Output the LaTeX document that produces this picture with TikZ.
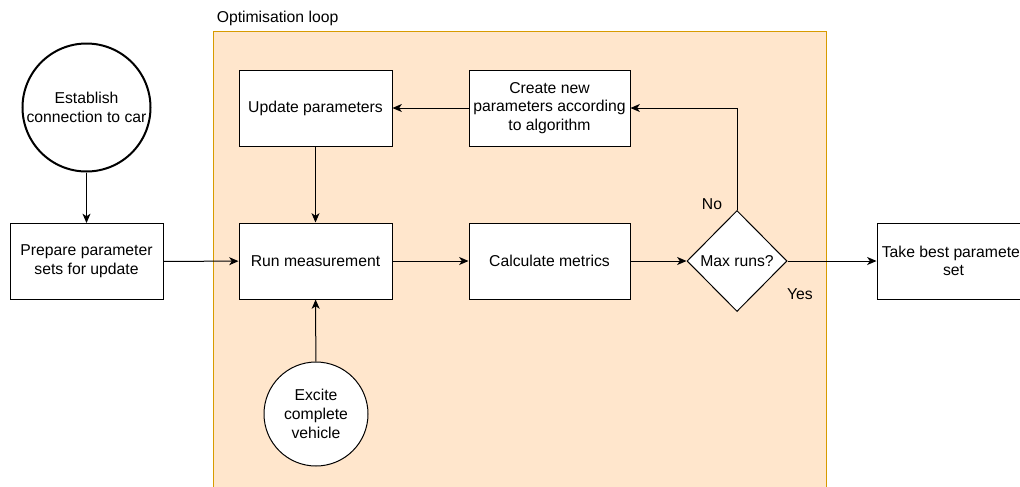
\documentclass[tikz,border=0pt]{standalone}
\usepackage{fontspec}
\setmainfont{Liberation Sans}
\usetikzlibrary{shapes.geometric,arrows.meta,positioning}

\definecolor{loopfill}{HTML}{FFE6CC}
\definecolor{loopdraw}{HTML}{D79B00}
\newcommand{\flowfont}{\fontsize{11.8pt}{14pt}\selectfont}

\begin{document}
\begin{tikzpicture}[x=0.75pt,y=-0.75pt,
	every node/.style={font=\flowfont},
	box/.style={draw=black, fill=white, line width=0.75pt, minimum width=114.75pt, minimum height=57pt, align=center, inner sep=1pt},
	widebox/.style={box, minimum width=120.75pt},
	startnode/.style={circle, draw=black, fill=white, line width=1.5pt, minimum size=96pt, align=center, inner sep=0pt},
	excnode/.style={circle, draw=black, fill=white, line width=0.75pt, minimum size=78pt, align=center, inner sep=0pt},
	decision/.style={diamond, draw=black, fill=white, line width=0.75pt, minimum width=75pt, minimum height=75.75pt, inner sep=0pt},
	loopbox/.style={draw=loopdraw, fill=loopfill, line width=0.75pt, minimum width=459.75pt, minimum height=344.25pt, inner sep=0pt},
	arr/.style={-{Stealth[length=7pt,width=6pt,inset=2pt]}, line width=0.75pt},
	lbl/.style={inner sep=1pt}
]

	%Frame
	\useasboundingbox (0,0) rectangle (1020,486);
	\clip (0,0) rectangle (1020,486);

	%Loop
	\node[loopbox] (loop) at (519.5,260.5) {};
	\node[lbl, anchor=south west, inner sep=3pt] (looplbl) at (loop.north west) {Optimisation loop};

	%Steps
	\node[startnode] (est) at (86.5,107.5) {Establish\\connection to car};
	\node[box] (prep) at (86.5,261.5) {Prepare parameter\\sets for update};
	\node[box] (upd) at (315.5,108) {Update parameters};
	\node[box] (run) at (315.5,261) {Run measurement};
	\node[excnode] (exc) at (316,414) {Excite\\complete\\vehicle};
	\node[widebox] (create) at (549.5,108) {Create new\\parameters according\\to algorithm};
	\node[widebox] (calc) at (549.5,261) {Calculate metrics};
	\node[decision] (max) at (737,261) {Max runs?};
	\node[box] (take) at (953.5,261) {Take best parameter\\set};

	%Labels
	\node[lbl] (no) at (712,204) {No};
	\node[lbl] (yes) at (800,294) {Yes};

	%Arrows
	\draw[arr] (est) -- (prep);
	\draw[arr] (prep) -- (run);
	\draw[arr] (upd) -- (run);
	\draw[arr] (exc) -- (run);
	\draw[arr] (run) -- (calc);
	\draw[arr] (calc) -- (max);
	\draw[arr] (max) -- (take);
	\draw[arr] (max.north) |- (create.east);
	\draw[arr] (create) -- (upd);

\end{tikzpicture}
\end{document}
